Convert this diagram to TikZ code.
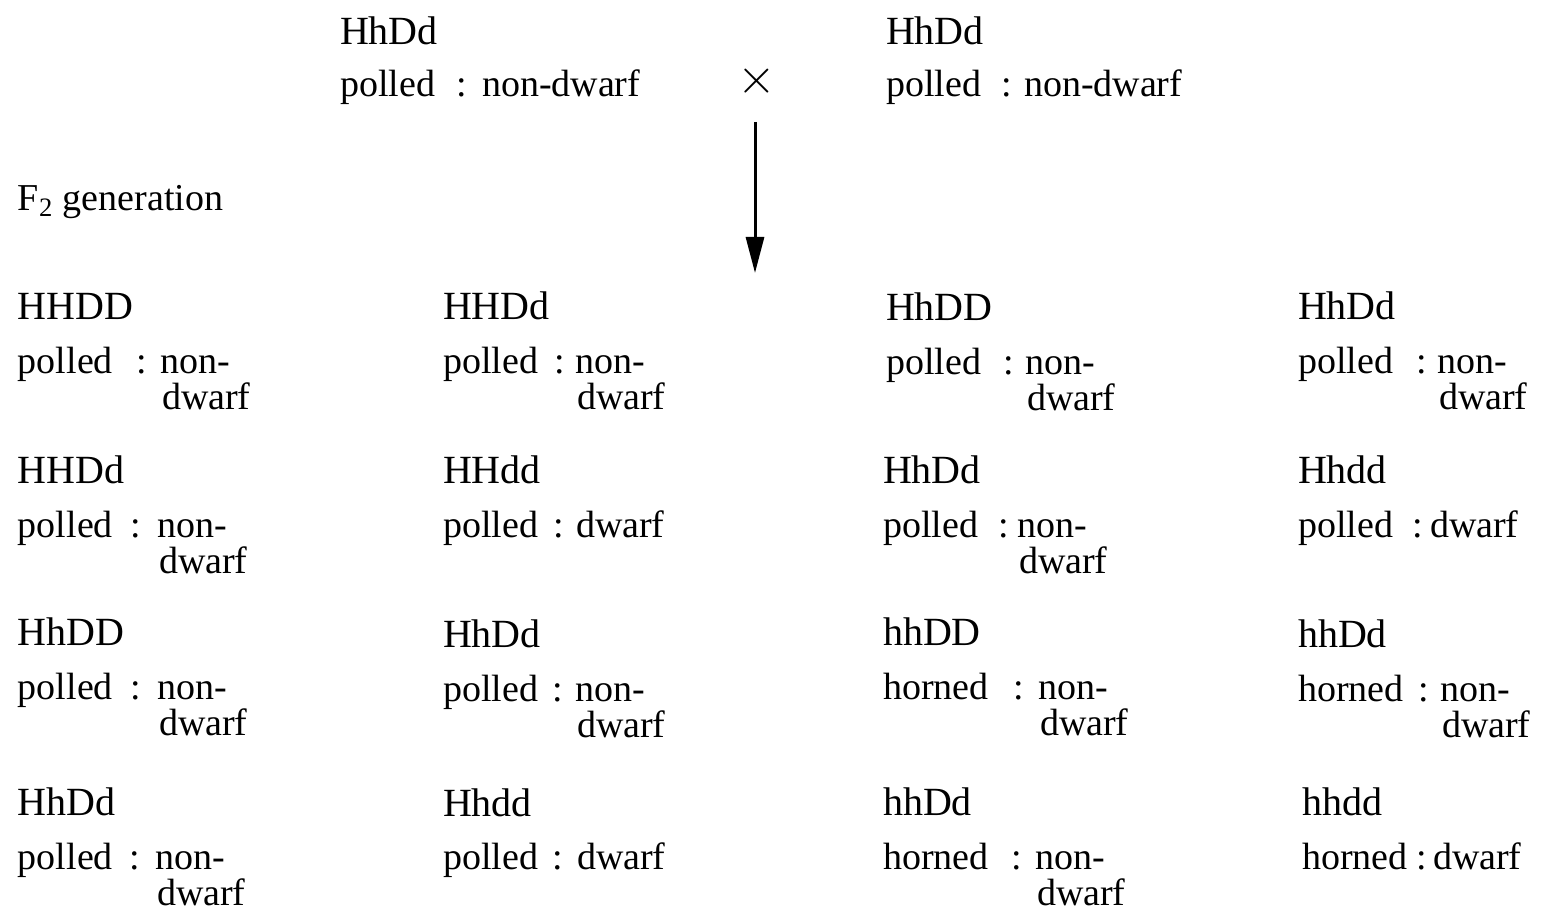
\documentclass[tikz,border=0pt]{standalone}
\usepackage{fontspec}
\setmainfont{Liberation Serif}
\usetikzlibrary{arrows.meta}
\newcommand\gcell[9]{%
  \node[txt,gen] (#1g) at (#2,#3) {#4};
  \node[txt] (#1t) at (#2,#3+54) {#5};
  \node[txt] (#1c) at (#6,#3+54) {:};
  \node[txt] (#1w) at (#7,#3+54) {#8};
  \node[txt] (#1v) at (#7+2,#3+90) {#9};
}
\begin{document}
\begin{tikzpicture}[x=0.5pt,y=-0.5pt,
  txt/.style={anchor=base west,inner sep=0pt,outer sep=0pt,font=\fontsize{19}{22}\selectfont},
  gen/.style={font=\fontsize{20}{24}\selectfont},
  arr/.style={line width=1.5pt,-{Triangle[length=18pt,width=9pt]}}]
\useasboundingbox (0,0) rectangle (1542,913);
% parents
\node[txt,gen] (p1g) at (340,45) {HhDd};
\node[txt] (p1t) at (340,97) {polled};
\node[txt] (p1c) at (456,97) {:};
\node[txt] (p1w) at (482,97) {non-dwarf};
\node[txt,gen] (p2g) at (886,45) {HhDd};
\node[txt] (p2t) at (886,97) {polled};
\node[txt] (p2c) at (1001,97) {:};
\node[txt] (p2w) at (1024,97) {non-dwarf};
\node[inner sep=0pt,font=\fontsize{24}{28}\selectfont] (cross) at (757,81) {$\times$};
\coordinate (arrtop) at (755,122);
\coordinate (arrend) at (755,273);
\draw[arr] (arrtop) -- (arrend);
\node[txt] (f2) at (18,211) {F\textsubscript{2} generation};
% row 1
\gcell{a1}{18}{320}{HHDD}{polled}{136}{160}{non-}{dwarf}
\gcell{b1}{443}{320}{HHDd}{polled}{554}{575}{non-}{dwarf}
\gcell{c1}{886}{321}{HhDD}{polled}{1003}{1025}{non-}{dwarf}
\gcell{d1}{1298}{320}{HhDd}{polled}{1416}{1437}{non-}{dwarf}
% row 2
\gcell{a2}{18}{484}{HHDd}{polled}{130}{157}{non-}{dwarf}
\gcell{b2}{443}{484}{HHdd}{polled}{553}{576}{dwarf}{}
\gcell{c2}{883}{484}{HhDd}{polled}{998}{1017}{non-}{dwarf}
\gcell{d2}{1298}{484}{Hhdd}{polled}{1412}{1430}{dwarf}{}
% row 3
\gcell{a3}{18}{646}{HhDD}{polled}{130}{157}{non-}{dwarf}
\gcell{b3}{443}{648}{HhDd}{polled}{552}{575}{non-}{dwarf}
\gcell{c3}{883}{646}{hhDD}{horned}{1013}{1038}{non-}{dwarf}
\gcell{d3}{1298}{648}{hhDd}{horned}{1418}{1440}{non-}{dwarf}
% row 4
\gcell{a4}{18}{815}{HhDd}{polled}{129}{155}{non-}{dwarf}
\gcell{b4}{443}{816}{Hhdd}{polled}{552}{577}{dwarf}{}
\gcell{c4}{883}{815}{hhDd}{horned}{1011}{1035}{non-}{dwarf}
\gcell{d4}{1302}{815}{hhdd}{horned}{1416}{1433}{dwarf}{}
\end{tikzpicture}
\end{document}
